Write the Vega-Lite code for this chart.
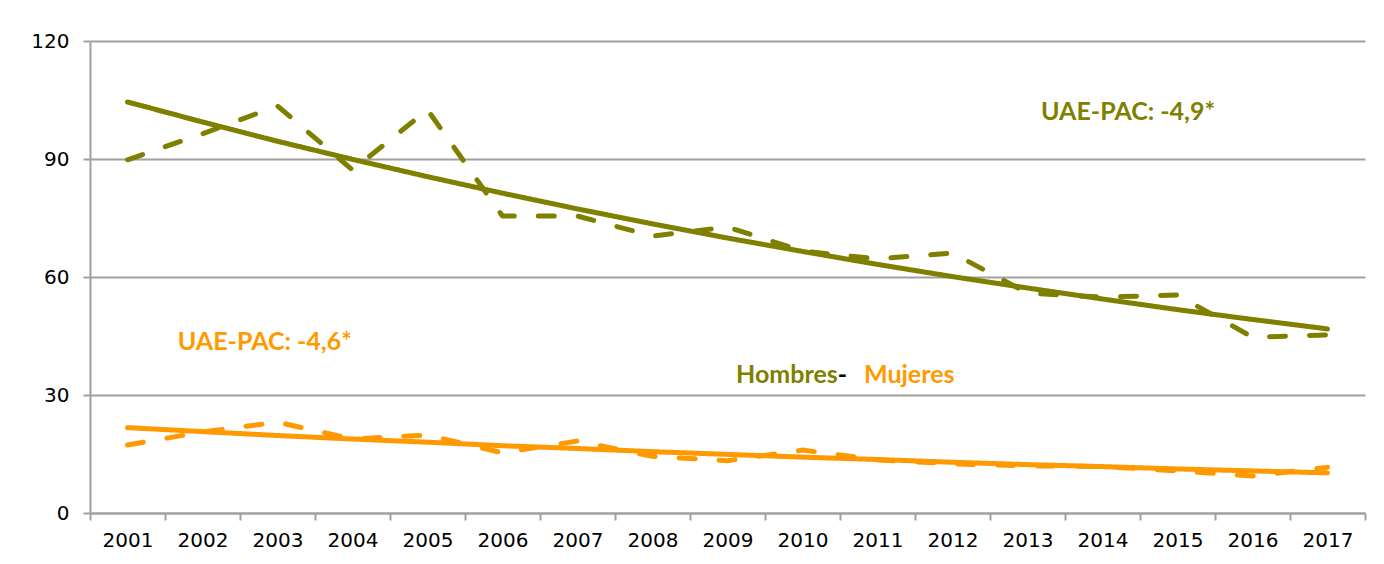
{
  "$schema": "https://vega.github.io/schema/vega-lite/v6.json",
  "width": 1275,
  "height": 472,
  "autosize": "none",
  "padding": {"left": 90, "top": 41, "right": 19, "bottom": 51},
  "background": "white",
  "config": {"view": {"stroke": null}, "font": "DejaVu Sans", "axis": {"labelFont": "DejaVu Sans"}},
  "datasets": {
    "tasas": [
      {"anio": 2001, "sexo": "Hombres", "serie": "Observada", "valor": 89.8},
      {"anio": 2002, "sexo": "Hombres", "serie": "Observada", "valor": 96.4},
      {"anio": 2003, "sexo": "Hombres", "serie": "Observada", "valor": 103.5},
      {"anio": 2004, "sexo": "Hombres", "serie": "Observada", "valor": 87.2},
      {"anio": 2005, "sexo": "Hombres", "serie": "Observada", "valor": 102.5},
      {"anio": 2006, "sexo": "Hombres", "serie": "Observada", "valor": 75.5},
      {"anio": 2007, "sexo": "Hombres", "serie": "Observada", "valor": 75.5},
      {"anio": 2008, "sexo": "Hombres", "serie": "Observada", "valor": 70.4},
      {"anio": 2009, "sexo": "Hombres", "serie": "Observada", "valor": 72.7},
      {"anio": 2010, "sexo": "Hombres", "serie": "Observada", "valor": 66.6},
      {"anio": 2011, "sexo": "Hombres", "serie": "Observada", "valor": 64.6},
      {"anio": 2012, "sexo": "Hombres", "serie": "Observada", "valor": 66.1},
      {"anio": 2013, "sexo": "Hombres", "serie": "Observada", "valor": 55.9},
      {"anio": 2014, "sexo": "Hombres", "serie": "Observada", "valor": 54.9},
      {"anio": 2015, "sexo": "Hombres", "serie": "Observada", "valor": 55.4},
      {"anio": 2016, "sexo": "Hombres", "serie": "Observada", "valor": 44.7},
      {"anio": 2017, "sexo": "Hombres", "serie": "Observada", "valor": 45.3},
      {"anio": 2001, "sexo": "Hombres", "serie": "Tendencia", "valor": 104.5},
      {"anio": 2002, "sexo": "Hombres", "serie": "Tendencia", "valor": 99.4},
      {"anio": 2003, "sexo": "Hombres", "serie": "Tendencia", "valor": 94.5},
      {"anio": 2004, "sexo": "Hombres", "serie": "Tendencia", "valor": 89.9},
      {"anio": 2005, "sexo": "Hombres", "serie": "Tendencia", "valor": 85.5},
      {"anio": 2006, "sexo": "Hombres", "serie": "Tendencia", "valor": 81.3},
      {"anio": 2007, "sexo": "Hombres", "serie": "Tendencia", "valor": 77.3},
      {"anio": 2008, "sexo": "Hombres", "serie": "Tendencia", "valor": 73.5},
      {"anio": 2009, "sexo": "Hombres", "serie": "Tendencia", "valor": 69.9},
      {"anio": 2010, "sexo": "Hombres", "serie": "Tendencia", "valor": 66.5},
      {"anio": 2011, "sexo": "Hombres", "serie": "Tendencia", "valor": 63.2},
      {"anio": 2012, "sexo": "Hombres", "serie": "Tendencia", "valor": 60.1},
      {"anio": 2013, "sexo": "Hombres", "serie": "Tendencia", "valor": 57.2},
      {"anio": 2014, "sexo": "Hombres", "serie": "Tendencia", "valor": 54.4},
      {"anio": 2015, "sexo": "Hombres", "serie": "Tendencia", "valor": 51.7},
      {"anio": 2016, "sexo": "Hombres", "serie": "Tendencia", "valor": 49.2},
      {"anio": 2017, "sexo": "Hombres", "serie": "Tendencia", "valor": 46.8},
      {"anio": 2001, "sexo": "Mujeres", "serie": "Observada", "valor": 17.3},
      {"anio": 2002, "sexo": "Mujeres", "serie": "Observada", "valor": 20.6},
      {"anio": 2003, "sexo": "Mujeres", "serie": "Observada", "valor": 23.1},
      {"anio": 2004, "sexo": "Mujeres", "serie": "Observada", "valor": 18.8},
      {"anio": 2005, "sexo": "Mujeres", "serie": "Observada", "valor": 19.8},
      {"anio": 2006, "sexo": "Mujeres", "serie": "Observada", "valor": 15.3},
      {"anio": 2007, "sexo": "Mujeres", "serie": "Observada", "valor": 18.3},
      {"anio": 2008, "sexo": "Mujeres", "serie": "Observada", "valor": 14.4},
      {"anio": 2009, "sexo": "Mujeres", "serie": "Observada", "valor": 13.3},
      {"anio": 2010, "sexo": "Mujeres", "serie": "Observada", "valor": 16.0},
      {"anio": 2011, "sexo": "Mujeres", "serie": "Observada", "valor": 13.5},
      {"anio": 2012, "sexo": "Mujeres", "serie": "Observada", "valor": 12.5},
      {"anio": 2013, "sexo": "Mujeres", "serie": "Observada", "valor": 12.0},
      {"anio": 2014, "sexo": "Mujeres", "serie": "Observada", "valor": 11.8},
      {"anio": 2015, "sexo": "Mujeres", "serie": "Observada", "valor": 10.7},
      {"anio": 2016, "sexo": "Mujeres", "serie": "Observada", "valor": 9.4},
      {"anio": 2017, "sexo": "Mujeres", "serie": "Observada", "valor": 11.6},
      {"anio": 2001, "sexo": "Mujeres", "serie": "Tendencia", "valor": 21.7},
      {"anio": 2002, "sexo": "Mujeres", "serie": "Tendencia", "valor": 20.7},
      {"anio": 2003, "sexo": "Mujeres", "serie": "Tendencia", "valor": 19.7},
      {"anio": 2004, "sexo": "Mujeres", "serie": "Tendencia", "valor": 18.8},
      {"anio": 2005, "sexo": "Mujeres", "serie": "Tendencia", "valor": 18.0},
      {"anio": 2006, "sexo": "Mujeres", "serie": "Tendencia", "valor": 17.1},
      {"anio": 2007, "sexo": "Mujeres", "serie": "Tendencia", "valor": 16.4},
      {"anio": 2008, "sexo": "Mujeres", "serie": "Tendencia", "valor": 15.6},
      {"anio": 2009, "sexo": "Mujeres", "serie": "Tendencia", "valor": 14.9},
      {"anio": 2010, "sexo": "Mujeres", "serie": "Tendencia", "valor": 14.2},
      {"anio": 2011, "sexo": "Mujeres", "serie": "Tendencia", "valor": 13.6},
      {"anio": 2012, "sexo": "Mujeres", "serie": "Tendencia", "valor": 12.9},
      {"anio": 2013, "sexo": "Mujeres", "serie": "Tendencia", "valor": 12.3},
      {"anio": 2014, "sexo": "Mujeres", "serie": "Tendencia", "valor": 11.8},
      {"anio": 2015, "sexo": "Mujeres", "serie": "Tendencia", "valor": 11.2},
      {"anio": 2016, "sexo": "Mujeres", "serie": "Tendencia", "valor": 10.7},
      {"anio": 2017, "sexo": "Mujeres", "serie": "Tendencia", "valor": 10.2}
    ]
  },
  "layer": [
    {
      "data": {"name": "tasas"},
      "mark": {"type": "line", "strokeWidth": 5, "strokeCap": "round", "strokeJoin": "round"},
      "encoding": {
        "x": {
          "field": "anio", "type": "quantitative",
          "scale": {"domain": [2000.5, 2017.5], "nice": false, "zero": false},
          "axis": {
            "values": [2001, 2002, 2003, 2004, 2005, 2006, 2007, 2008, 2009, 2010, 2011, 2012, 2013, 2014, 2015, 2016, 2017],
            "format": "d", "ticks": false, "grid": false,
            "domainColor": "#a0a0a0", "domainWidth": 2,
            "labelFont": "DejaVu Sans", "labelFontSize": 20, "labelColor": "#000000", "labelPadding": 17,
            "labelFlush": false, "labelOverlap": false, "title": null, "orient": "bottom"
          }
        },
        "y": {
          "field": "valor", "type": "quantitative",
          "scale": {"domain": [0, 120], "nice": false},
          "axis": {
            "values": [0, 30, 60, 90, 120], "grid": true,
            "gridColor": "#a0a0a0", "gridWidth": 1.8,
            "tickColor": "#a0a0a0", "tickSize": 7, "tickWidth": 2,
            "domainColor": "#a0a0a0", "domainWidth": 2,
            "labelFont": "DejaVu Sans", "labelFontSize": 20, "labelColor": "#000000", "labelPadding": 14,
            "title": null
          }
        },
        "color": {
          "field": "sexo", "type": "nominal",
          "scale": {"domain": ["Hombres", "Mujeres"], "range": ["#808000", "#FF9900"]},
          "legend": null
        },
        "strokeDash": {
          "field": "serie", "type": "nominal",
          "scale": {"domain": ["Observada", "Tendencia"], "range": [[16, 24], [1, 0]]},
          "legend": null
        }
      }
    },
    {
      "data": {"name": "tasas"},
      "mark": {"type": "point", "opacity": 0},
      "encoding": {
        "x": {
          "field": "anio", "type": "quantitative",
          "axis": {
            "values": [2000.5, 2001.5, 2002.5, 2003.5, 2004.5, 2005.5, 2006.5, 2007.5, 2008.5, 2009.5, 2010.5, 2011.5, 2012.5, 2013.5, 2014.5, 2015.5, 2016.5, 2017.5],
            "labels": false, "ticks": true, "tickSize": 7, "tickWidth": 2, "tickColor": "#a0a0a0",
            "domain": false, "grid": false, "title": null, "orient": "bottom"
          }
        },
        "y": {"field": "valor", "type": "quantitative"}
      }
    },
    {
      "data": {"values": [{}]},
      "mark": {"type": "text", "align": "left", "baseline": "alphabetic", "font": "Lato", "fontWeight": "bold", "fontSize": 25, "color": "#808000"},
      "encoding": {"x": {"datum": 2013.18, "axis": null}, "y": {"datum": 99.9}, "text": {"value": "UAE-PAC: -4,9*"}}
    },
    {
      "data": {"values": [{}]},
      "mark": {"type": "text", "align": "left", "baseline": "alphabetic", "font": "Lato", "fontWeight": "bold", "fontSize": 25, "color": "#FF9900"},
      "encoding": {"x": {"datum": 2001.67, "axis": null}, "y": {"datum": 41.4}, "text": {"value": "UAE-PAC: -4,6*"}}
    },
    {
      "data": {"values": [{}]},
      "mark": {"type": "text", "align": "right", "baseline": "alphabetic", "font": "Lato", "fontWeight": "bold", "fontSize": 25, "color": "#808000"},
      "encoding": {"x": {"datum": 2010.47, "axis": null}, "y": {"datum": 33.05}, "text": {"value": "Hombres"}}
    },
    {
      "data": {"values": [{}]},
      "mark": {"type": "text", "align": "left", "baseline": "alphabetic", "font": "Lato", "fontWeight": "bold", "fontSize": 25, "color": "#000000"},
      "encoding": {"x": {"datum": 2010.47, "axis": null}, "y": {"datum": 33.05}, "text": {"value": "-"}}
    },
    {
      "data": {"values": [{}]},
      "mark": {"type": "text", "align": "left", "baseline": "alphabetic", "font": "Lato", "fontWeight": "bold", "fontSize": 25, "color": "#FF9900"},
      "encoding": {"x": {"datum": 2010.82, "axis": null}, "y": {"datum": 33.05}, "text": {"value": "Mujeres"}}
    }
  ],
  "resolve": {"axis": {"x": "independent"}}
}
